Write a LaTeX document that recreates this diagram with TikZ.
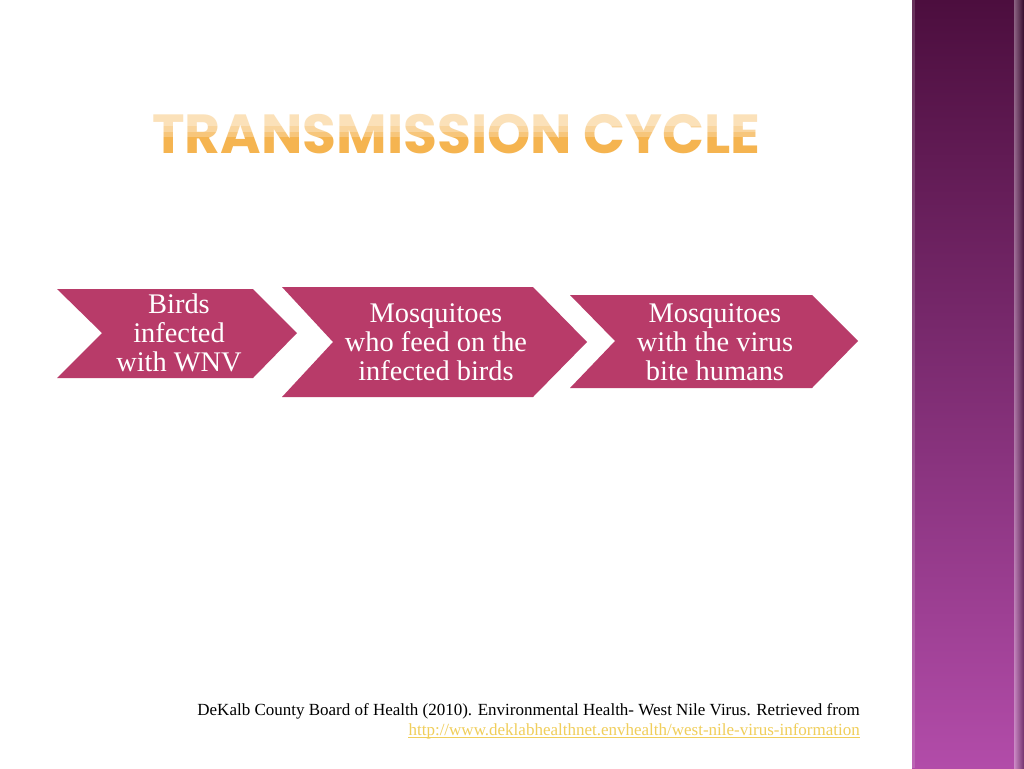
\documentclass[tikz,border=0pt]{standalone}
\usepackage{fontspec}
\setmainfont{Liberation Serif}
\newfontfamily\titlefont{Poppins}
\definecolor{chev}{HTML}{B83B69}
\definecolor{bartop}{HTML}{4C0E3E}
\definecolor{barbot}{HTML}{B24CA9}
\definecolor{ttlbot}{HTML}{F5B450}
\definecolor{linkc}{HTML}{F0CE5A}
\begin{document}
\begin{tikzpicture}[x=0.75pt,y=-0.75pt,
  chevshape/.style={fill=chev,draw=none},
  chevtext/.style={text=white,align=center,font=\fontsize{21.3}{21.8}\selectfont,inner sep=0pt},
  foot/.style={font=\fontsize{12.75}{14}\selectfont,inner sep=0pt,anchor=base east},
  ttlstyle/.style={inner sep=0pt,anchor=base west,font=\titlefont\fontsize{41.3}{42}\selectfont\bfseries},
  gloss/.style={fill=white,draw=none}]
\useasboundingbox (0,0) rectangle (1024,768);
\fill[white] (0,0) rectangle (1024,768);
% right bar
\shade[top color=bartop,bottom color=barbot] (912,0) rectangle (1024,768);
\fill[white,opacity=0.15] (912,0) rectangle (915,768);
\shade[left color=black!0,right color=black,opacity=0.35] (1014,0) rectangle (1024,768);
% title with glossy top half
\node[ttlstyle,text=ttlbot] (title) at (152,153) {TRANSMISSION CYCLE};
\fill[gloss,opacity=0.6] (148,105) rectangle (765,126);
\fill[gloss,opacity=0.45] (148,126) rectangle (765,132);
\fill[gloss,opacity=0.25] (148,132) rectangle (765,137);
% chevrons
\fill[chevshape] (57,289) -- (253,289) -- (297,333) -- (253,378) -- (57,378) -- (102,333) -- cycle;
\fill[chevshape] (282,287) -- (533,287) -- (587,342) -- (533,397) -- (282,397) -- (333,342) -- cycle;
\fill[chevshape] (570,295) -- (812,295) -- (858,341) -- (812,388) -- (570,388) -- (615,341) -- cycle;
\node[chevtext] (c1) at (179,333) {Birds\\infected\\with WNV};
\node[chevtext] (c2) at (436,342) {Mosquitoes\\who feed on the\\infected birds};
\node[chevtext] (c3) at (715,342) {Mosquitoes\\with the virus\\bite humans};
% footer
\node[foot] (ref) at (860,715) {DeKalb County Board of Health (2010). Environmental Health- West Nile Virus. Retrieved from};
\node[foot,text=linkc] (link) at (860,735) {http://www.deklabhealthnet.envhealth/west-nile-virus-information};
\draw[linkc,line width=0.6pt] ([yshift=-1.6pt]link.base west) -- ([yshift=-1.6pt]link.base east);
\end{tikzpicture}
\end{document}
